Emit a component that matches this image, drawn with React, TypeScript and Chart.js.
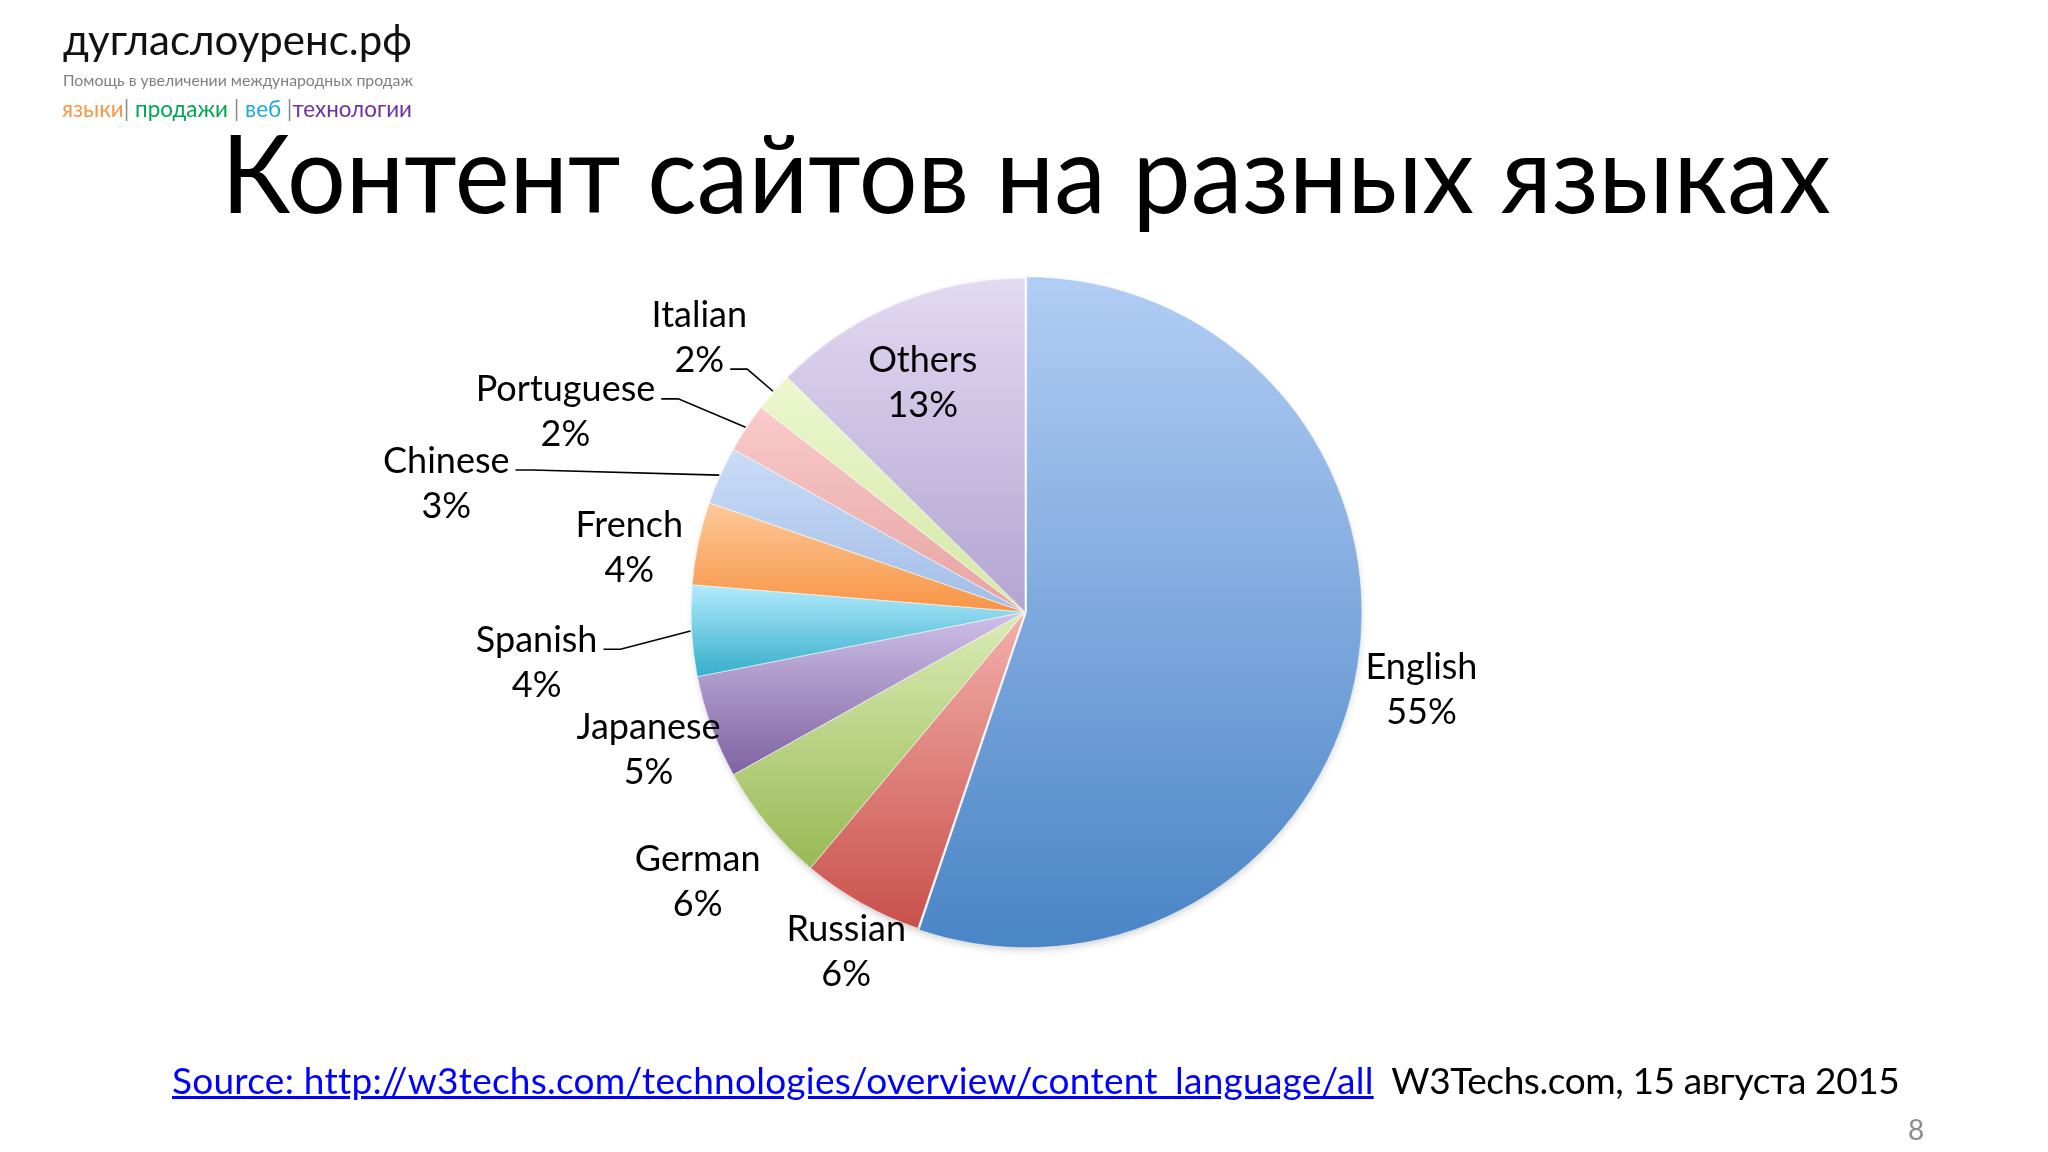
import React, { useEffect, useRef } from "react";
import { Chart, registerables } from "chart.js";

Chart.register(...registerables);

// ---- data ----
const languages = ["English", "Russian", "German", "Japanese", "Spanish", "French", "Chinese", "Portuguese", "Italian", "Others"];
const shares = [55.2, 5.9, 5.8, 5.0, 4.4, 4.0, 2.8, 2.4, 1.9, 12.6];

// ---- styles ----
const topColors = ["#b2cdf5", "#f3b0ac", "#dbecb6", "#cfc1e8", "#b3eafc", "#fdc99a", "#cadcf7", "#f9cbca", "#ecf7cf", "#e2d9f2"];
const bottomColors = ["#4a85c6", "#c9504b", "#98b954", "#7e62a0", "#35aecb", "#f79444", "#a2bde6", "#e6a3a2", "#d4e8a4", "#b3a5d1"];
const sliceOffsets = [6, 0, 0, 0, 0, 0, 0, 0, 0, 0];
const PIE_RADIUS = 334;

// label placement relative to each slice (radius factor, angle shift in degrees)
const labelRadius = [1.21, 1.15, 1.27, 1.2, 1.47, 1.2, 1.775, 1.5, 1.275, 0.75];
const labelAngleShift = [1.8, -1.6, 0.1, 0.1, -2.7, -2.7, -11.6, -10, -1.1, -1.4];
const leaderLine = [false, false, false, false, true, false, true, true, true, false];
const leaderRow = [0, 0, 0, 0, 0, 0, 0, 0, 1, 0];

const LABEL_FONT = "36px Lato";
const LABEL_LINE = 45;

const total = shares.reduce((a, b) => a + b, 0);

function sliceGradient(c: any) {
  const i = c.dataIndex;
  const chart = c.chart;
  const area = chart.chartArea;
  if (!area || i === undefined) return topColors[i] || "#ccc";
  const cx = (area.left + area.right) / 2;
  const cy = (area.top + area.bottom) / 2;
  let before = 0;
  for (let k = 0; k < i; k++) before += shares[k];
  const a0 = -Math.PI / 2 + (before / total) * Math.PI * 2;
  const a1 = a0 + (shares[i] / total) * Math.PI * 2;
  let yMin = cy;
  let yMax = cy;
  for (let s = 0; s <= 36; s++) {
    const a = a0 + ((a1 - a0) * s) / 36;
    const y = cy + PIE_RADIUS * Math.sin(a);
    yMin = Math.min(yMin, y);
    yMax = Math.max(yMax, y);
  }
  if (yMax - yMin < 1) yMax = yMin + 1;
  const g = chart.ctx.createLinearGradient(0, yMin, 0, yMax);
  g.addColorStop(0, topColors[i]);
  g.addColorStop(1, bottomColors[i]);
  return g;
}

const shadowPlugin = {
  id: "pieShadow",
  beforeDatasetsDraw(chart: any) {
    const meta = chart.getDatasetMeta(0);
    const arc = meta.data[1];
    if (!arc) return;
    const ctx = chart.ctx;
    ctx.save();
    ctx.shadowColor = "rgba(0,0,0,0.28)";
    ctx.shadowBlur = 10;
    ctx.shadowOffsetX = 2;
    ctx.shadowOffsetY = 4;
    ctx.fillStyle = "#ffffff";
    ctx.beginPath();
    ctx.arc(arc.x, arc.y, arc.outerRadius - 2, 0, Math.PI * 2);
    ctx.fill();
    ctx.restore();
  },
};

const labelPlugin = {
  id: "sliceLabels",
  afterDatasetsDraw(chart: any) {
    const meta = chart.getDatasetMeta(0);
    const ctx = chart.ctx;
    ctx.save();
    ctx.font = LABEL_FONT;
    ctx.fillStyle = "#000000";
    ctx.textAlign = "center";
    ctx.textBaseline = "middle";
    meta.data.forEach((arc: any, i: number) => {
      const mid = (arc.startAngle + arc.endAngle) / 2;
      const la = mid + (labelAngleShift[i] * Math.PI) / 180;
      const r = arc.outerRadius * labelRadius[i];
      const lx = arc.x + Math.cos(la) * r;
      const ly = arc.y + Math.sin(la) * r;
      const lines = [languages[i], Math.round(shares[i]) + "%"];
      const y0 = ly - LABEL_LINE / 2;
      lines.forEach((t, k) => ctx.fillText(t, lx, y0 + k * LABEL_LINE));
      if (leaderLine[i]) {
        const row = leaderRow[i];
        const w = ctx.measureText(lines[row]).width;
        const sx = lx + w / 2 + 6;
        const sy = y0 + row * LABEL_LINE + 9;
        const ex = arc.x + Math.cos(mid) * (arc.outerRadius + 1);
        const ey = arc.y + Math.sin(mid) * (arc.outerRadius + 1);
        ctx.beginPath();
        ctx.strokeStyle = "#000000";
        ctx.lineWidth = 1.6;
        ctx.moveTo(sx, sy);
        ctx.lineTo(sx + 17, sy);
        ctx.lineTo(ex, ey);
        ctx.stroke();
      }
    });
    ctx.restore();
  },
};

function Txt(props: { x: number; baseline: number; size: number; children: any; style?: any; center?: boolean }) {
  const { x, baseline, size, children, style, center } = props;
  return (
    <div
      style={{
        position: "absolute",
        left: center ? 0 : x,
        width: center ? 2048 : undefined,
        textAlign: center ? "center" : "left",
        top: baseline - 0.887 * size,
        fontSize: size,
        lineHeight: 1,
        fontFamily: "Lato, sans-serif",
        whiteSpace: "nowrap",
        ...style,
      }}
    >
      {children}
    </div>
  );
}

export default function App() {
  const ref = useRef<HTMLCanvasElement | null>(null);
  useEffect(() => {
    if (!ref.current) return;
    const chart = new Chart(ref.current, {
      type: "pie",
      data: {
        labels: languages,
        datasets: [
          {
            data: shares,
            backgroundColor: sliceGradient as any,
            borderColor: "rgba(255,255,255,0.55)",
            borderWidth: 1,
            offset: sliceOffsets,
            radius: PIE_RADIUS,
          } as any,
        ],
      },
      options: {
        responsive: false,
        animation: false,
        events: [],
        layout: { padding: { left: 400, right: 398, top: 200, bottom: 128 } },
        plugins: {
          legend: { display: false },
          tooltip: { enabled: false },
          title: { display: false },
        },
      },
      plugins: [shadowPlugin, labelPlugin],
    });
    return () => chart.destroy();
  }, []);

  return (
    <div style={{ position: "absolute", left: 0, top: 0, width: 2048, height: 1152, background: "#ffffff", overflow: "hidden" }}>
      <canvas ref={ref} width={2048} height={1152} style={{ position: "absolute", left: 0, top: 0 }} />
      <Txt x={63} baseline={55} size={42} style={{ color: "#111" }}>дугласлоуренс.рф</Txt>
      <Txt x={63} baseline={86} size={15.8} style={{ color: "#808080" }}>Помощь в увеличении международных продаж</Txt>
      <Txt x={62} baseline={118} size={22.4}>
        <span style={{ color: "#f79646" }}>языки</span>
        <span style={{ color: "#8c8c8c" }}>|</span>
        <span style={{ color: "#00a651" }}> продажи </span>
        <span style={{ color: "#8c8c8c" }}>|</span>
        <span style={{ color: "#1ea7e1" }}> веб </span>
        <span style={{ color: "#8c8c8c" }}>|</span>
        <span style={{ color: "#7030a0" }}>технологии</span>
      </Txt>
      <Txt x={0} baseline={213} size={108} center style={{ color: "#000", left: 2, transform: "scaleX(0.962)", transformOrigin: "1024px 0" }}>Контент сайтов на разных языках</Txt>
      <Txt x={172} baseline={1094} size={37}>
        <span style={{ color: "#0000ff", textDecoration: "underline", letterSpacing: "0.25px" }}>Source: http://w3techs.com/technologies/overview/content_language/all</span>
        <span style={{ color: "#000", letterSpacing: "-0.4px" }}>&nbsp; W3Techs.com, 15 августа 2015</span>
      </Txt>
      <Txt x={1908} baseline={1140} size={28} style={{ color: "#8c8c8c" }}>8</Txt>
    </div>
  );
}
